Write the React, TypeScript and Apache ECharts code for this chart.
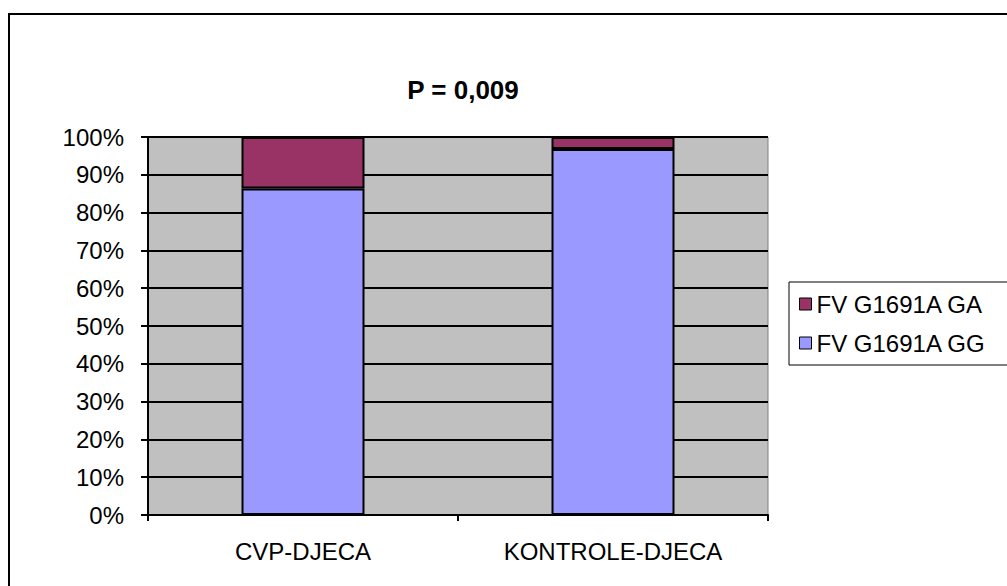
import React, { useEffect, useRef } from "react";
import * as echarts from "echarts";

const categories = ["CVP-DJECA", "KONTROLE-DJECA"];
const seriesNames = ["FV G1691A GA", "FV G1691A GG"];
const ggValues = [86.4, 96.8];
const gaValues = [13.6, 3.2];
const titleText = "P = 0,009";

export default function App() {
  const ref = useRef<HTMLDivElement>(null);
  useEffect(() => {
    document.body.style.margin = "0";
    const chart = echarts.init(ref.current!, null, { renderer: "svg" });
    const font = "Arial, 'Liberation Sans', sans-serif";
    chart.setOption({
      animation: false,
      backgroundColor: "#ffffff",
      title: {
        text: titleText,
        left: 458,
        top: 72,
        textAlign: "center",
        textStyle: { fontFamily: font, fontSize: 26, fontWeight: "bold", color: "#000" },
      },
      graphic: [
        {
          type: "rect",
          shape: { x: 9, y: 14, width: 1100, height: 700 },
          style: { fill: "none", stroke: "#000", lineWidth: 2 },
          silent: true,
          z: -1,
        },
      ],
      legend: {
        orient: "vertical",
        left: 789,
        top: 282,
        data: seriesNames,
        borderColor: "#000",
        borderWidth: 1,
        padding: [10, 40, 10, 10],
        itemWidth: 12,
        itemHeight: 12,
        itemGap: 15,
        icon: "rect",
        textStyle: { fontFamily: font, fontSize: 24, color: "#000", padding: [0, 0, 0, 0] },
        itemStyle: { borderColor: "#000", borderWidth: 1 },
      },
      grid: {
        left: 148,
        top: 137,
        width: 620,
        height: 378,
        show: true,
        backgroundColor: "#C0C0C0",
        borderColor: "#808080",
        borderWidth: 1,
      },
      xAxis: {
        type: "category",
        data: categories,
        axisLine: { lineStyle: { color: "#000", width: 2 } },
        axisTick: { show: true, alignWithLabel: false, length: 6, lineStyle: { color: "#000", width: 2 } },
        axisLabel: { fontFamily: font, fontSize: 24, color: "#000", margin: 24 },
      },
      yAxis: {
        type: "value",
        min: 0,
        max: 100,
        interval: 10,
        axisLine: { show: true, lineStyle: { color: "#000", width: 2 } },
        axisTick: { show: true, length: 7, lineStyle: { color: "#000", width: 2 } },
        axisLabel: { formatter: "{value}%", fontFamily: font, fontSize: 24, color: "#000", margin: 24 },
        splitLine: { show: true, lineStyle: { color: "#000", width: 2 } },
      },
      series: [
        {
          name: seriesNames[1],
          type: "bar",
          stack: "total",
          data: ggValues,
          barWidth: 123,
          itemStyle: { color: "#9999FF", borderColor: "#000", borderWidth: 2 },
        },
        {
          name: seriesNames[0],
          type: "bar",
          stack: "total",
          data: gaValues,
          barWidth: 123,
          itemStyle: { color: "#993366", borderColor: "#000", borderWidth: 2 },
        },
      ],
    });
    return () => chart.dispose();
  }, []);
  return <div ref={ref} style={{ width: 1007, height: 586 }} />;
}
